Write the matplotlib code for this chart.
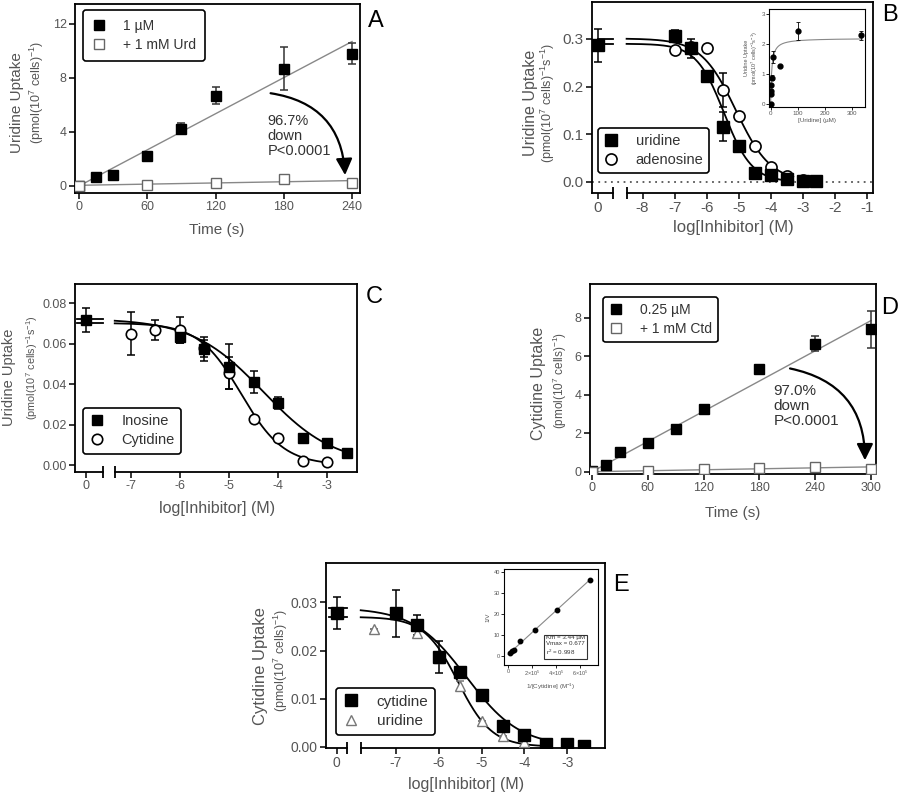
import numpy as np
import matplotlib
matplotlib.use('Agg')
import matplotlib.pyplot as plt
from matplotlib.patches import FancyArrowPatch

plt.rcParams['font.family'] = ['Liberation Sans', 'DejaVu Sans']
plt.rcParams['mathtext.fontset'] = 'custom'
plt.rcParams['mathtext.rm'] = 'Liberation Sans'
plt.rcParams['mathtext.it'] = 'Liberation Sans:italic'
plt.rcParams['mathtext.bf'] = 'Liberation Sans:bold'

W, H = 900, 793
GREY = '#555555'
LGREY = '#888888'

# ---------------- data ----------------
# A: uridine uptake time course
time_a = [0, 15, 30, 60, 90, 120, 180, 240]
urd_a = [0.0, 0.65, 0.8, 2.2, 4.25, 6.7, 8.7, 9.8]
urd_a_err = [0.1, 0.1, 0.1, 0.3, 0.4, 0.6, 1.6, 0.8]
time_a_inh = [0, 60, 120, 180, 240]
urd_a_inh = [0.0, 0.1, 0.2, 0.5, 0.25]
fit_a_x = [0, 240]
fit_a_y = [0.0, 10.7]
fit_a_inh_y = [0.05, 0.4]

# B: uridine uptake vs inhibitor
ctrl_b, ctrl_b_err = 0.287, 0.035
logc_b = [-7, -6.5, -6, -5.5, -5, -4.5, -4, -3.5, -3, -2.6]
urd_b = [0.306, 0.281, 0.223, 0.116, 0.076, 0.019, 0.015, 0.006, 0.003, 0.002]
urd_b_err = [0.012, 0.02, 0.01, 0.03, 0.005, 0.0, 0.0, 0.0, 0.0, 0.0]
logc_b_ado = [-7, -6.5, -6, -5.5, -5, -4.5, -4, -3.5, -3]
ado_b = [0.276, 0.283, 0.281, 0.193, 0.138, 0.076, 0.031, 0.0126, 0.0035]
ado_b_err = [0.0, 0.0, 0.0, 0.035, 0.0, 0.0, 0.0, 0.0, 0.0]
fit_b_urd = (0.290, -5.46, 1.0)   # top, logIC50, hill
fit_b_ado = (0.301, -5.09, 0.8)
# B inset: uridine concentration dependence
conc_b_in = [0, 1, 2, 3, 5, 10, 33, 100, 333]
v_b_in = [0.0, 0.31, 0.42, 0.64, 0.88, 1.58, 1.25, 2.43, 2.3]
v_b_in_err = [0.0, 0.0, 0.0, 0.0, 0.1, 0.2, 0.0, 0.3, 0.15]
mm_b_in = (2.2, 4.0)  # Vmax, Km

# C
ctrl_c, ctrl_c_err = 0.0718, 0.006
logc_c_ino = [-6, -5.5, -5, -4.5, -4, -3.5, -3, -2.6]
ino_c = [0.0635, 0.0574, 0.0487, 0.041, 0.0305, 0.0135, 0.0107, 0.0058]
ino_c_err = [0.003, 0.006, 0.011, 0.0055, 0.003, 0.0, 0.0, 0.001]
logc_c_cyd = [-7, -6.5, -6, -5.5, -5, -4.5, -4, -3.5, -3]
cyd_c = [0.065, 0.067, 0.0667, 0.0577, 0.0454, 0.0226, 0.0132, 0.0021, 0.0013]
cyd_c_err = [0.0105, 0.005, 0.0065, 0.004, 0.008, 0.001, 0.0, 0.0, 0.0]
fit_c_ino = (0.0725, -4.3, 0.6)
fit_c_cyd = (0.0703, -4.75, 1.0)

# D: cytidine uptake time course
time_d = [0, 15, 30, 60, 90, 120, 180, 240, 300]
cyd_d = [0.05, 0.35, 1.0, 1.5, 2.2, 3.25, 5.35, 6.65, 7.4]
cyd_d_err = [0.05, 0.05, 0.05, 0.1, 0.1, 0.2, 0.15, 0.4, 0.95]
time_d_inh = [0, 60, 120, 180, 240, 300]
cyd_d_inh = [0.0, 0.03, 0.12, 0.19, 0.26, 0.14]
fit_d_x = [0, 300]
fit_d_y = [0.0, 7.85]
fit_d_inh_y = [0.0, 0.25]

# E
ctrl_e, ctrl_e_err = 0.0278, 0.0034
logc_e_cyd = [-7, -6.5, -6, -5.5, -5, -4.5, -4, -3.5, -3, -2.6]
cyd_e = [0.0277, 0.0253, 0.0187, 0.0155, 0.0108, 0.0044, 0.0025, 0.0006, 0.0005, 0.0002]
cyd_e_err = [0.0048, 0.002, 0.0033, 0.001, 0.0005, 0.0, 0.0, 0.0, 0.0, 0.0]
logc_e_urd = [-7.5, -6.5, -6, -5.5, -5, -4.5, -4, -3.5]
urd_e = [0.0244, 0.0236, 0.0184, 0.0126, 0.0054, 0.0022, 0.001, 0.0003]
urd_e_err = [0.0, 0.0008, 0.0, 0.001, 0.0, 0.0, 0.0, 0.0]
fit_e_cyd = (0.0289, -5.35, 0.7)
fit_e_urd = (0.0270, -5.55, 1.1)
# E inset: double reciprocal
inv_s_e = [0.15e5, 0.3e5, 0.45e5, 1.0e5, 2.2e5, 4.1e5, 6.8e5]
inv_v_e = [1.1, 2.0, 2.7, 6.8, 12.3, 21.6, 35.8]
lb_e = (0.6, 5.2e-5)  # intercept, slope


def hill(x, top, c, h):
    return top / (1 + 10 ** ((np.asarray(x) - c) * h))


fig = plt.figure(figsize=(W / 100, H / 100), dpi=100)


def px_axes(x0, y0, x1, y1):
    return fig.add_axes([x0 / W, 1 - y1 / H, (x1 - x0) / W, (y1 - y0) / H])


def style(ax, fs, lw=1.3):
    for s in ax.spines.values():
        s.set_linewidth(lw)
    ax.tick_params(direction='out', length=4, width=1.1, labelsize=fs,
                   labelcolor=GREY, pad=2)


def break_axis(ax, xmin, bl, br, xmax):
    ax.spines['bottom'].set_bounds(br, xmax)
    tr = ax.get_xaxis_transform()
    ax.plot([xmin, bl], [0, 0], transform=tr, color='k', lw=1.3, clip_on=False)
    ax.plot([bl, br], [0, 0], transform=tr, ls='none', marker='|', ms=8,
            mew=1.3, color='k', clip_on=False)


def ylab(x, y, l1, l2, x2, y2, fs1, fs2):
    fig.text(x / W, 1 - y / H, l1, rotation=90, ha='center', va='center',
             fontsize=fs1, color=GREY)
    fig.text(x2 / W, 1 - y2 / H, l2, rotation=90, ha='center', va='center',
             fontsize=fs2, color=GREY)


def panel_letter(x, y, s):
    fig.text(x / W, 1 - y / H, s, ha='center', va='center', fontsize=17)


def legend(ax, loc, anchor, fs, handles=None, labels=None, bpad=0.45):
    if handles is None:
        handles, labels = ax.get_legend_handles_labels()
    leg = ax.legend(handles, labels, loc=loc, bbox_to_anchor=anchor, fontsize=fs,
                    frameon=True, fancybox=True, edgecolor='k', framealpha=1,
                    handlelength=1.0, handletextpad=1.2, borderpad=bpad,
                    labelspacing=0.35, borderaxespad=0)
    leg.get_frame().set_linewidth(1.2)
    for t in leg.get_texts():
        t.set_color('#333333')
    return leg


ebkw = dict(fmt='none', ecolor='k', elinewidth=1.1, capsize=3, capthick=1.1)

# ---------------- Panel A ----------------
ax = px_axes(75, 4, 360, 193)
style(ax, 9)
ax.plot(fit_a_x, fit_a_y, color=LGREY, lw=1.0)
ax.plot(fit_a_x, fit_a_inh_y, color=LGREY, lw=1.0)
ax.errorbar(time_a, urd_a, yerr=urd_a_err, **dict(ebkw, ecolor='#333333'))
ax.plot(time_a, urd_a, 's', color='k', ms=7.5, label='1 µM', zorder=5)
ax.plot(time_a_inh, urd_a_inh, 's', mfc='white', mec='#666666', mew=1.0,
        ms=7.5, label='+ 1 mM Urd', zorder=5)
ax.set_xlim(-3.5, 247)
ax.set_ylim(-0.52, 13.48)
ax.set_xticks([0, 60, 120, 180, 240])
ax.set_yticks([0, 4, 8, 12])
ax.add_patch(FancyArrowPatch((166, 6.9), (234, 0.6), connectionstyle='arc3,rad=-0.42',
                             arrowstyle='-|>,head_length=0.9,head_width=0.45',
                             mutation_scale=11, lw=1.6, color='k'))
ax.text(166, 5.3, '96.7%\ndown\nP<0.0001', fontsize=10.5, color='#333333',
        va='top', ha='left', linespacing=1.05)
legend(ax, 'upper left', (0.028, 0.968), 10, bpad=0.65)
ylab(17, 103, 'Uridine Uptake', r'(pmol(10$^7$ cells)$^{-1}$)', 37, 92, 11, 9)
fig.text(217 / W, 1 - 230 / H, 'Time (s)', ha='center', va='center', fontsize=11, color=GREY)
panel_letter(376, 21, 'A')

# ---------------- Panel B ----------------
ax = px_axes(592, 2, 873, 193)
style(ax, 11)
xmin, xmax, bl, br, ctrl = -9.58, -0.81, -8.92, -8.5, -9.39
ax.axhline(0, color=GREY, lw=1.3, ls=(0, (1, 2.5)))
for top, c, h in (fit_b_urd, fit_b_ado):
    ax.plot([xmin + 0.2, bl], [top, top], color='k', lw=1.3)
    xs = np.linspace(br, -3.3, 200)
    ax.plot(xs, hill(xs, top, c, h), color='k', lw=1.3)
ax.errorbar([ctrl], [ctrl_b], yerr=[ctrl_b_err], **ebkw)
ax.errorbar(logc_b, urd_b, yerr=urd_b_err, **ebkw)
ax.errorbar(logc_b_ado, ado_b, yerr=ado_b_err, **ebkw)
ax.plot(logc_b_ado, ado_b, 'o', mfc='white', mec='k', mew=1.2, ms=8, label='adenosine', zorder=4)
ax.plot([ctrl] + logc_b, [ctrl_b] + urd_b, 's', color='k', ms=8.5, label='uridine', zorder=5)
ax.set_xlim(xmin, xmax)
ax.set_ylim(-0.0231, 0.3776)
ax.set_xticks([ctrl] + list(range(-8, 0)))
ax.set_xticklabels(['0'] + [str(v) for v in range(-8, 0)])
ax.set_yticks([0, 0.1, 0.2, 0.3])
ax.set_yticklabels(['0.0', '0.1', '0.2', '0.3'])
break_axis(ax, xmin, bl, br, xmax)
h_, l_ = ax.get_legend_handles_labels()
legend(ax, 'lower left', (0.021, 0.105), 10.5, h_[::-1], l_[::-1], bpad=0.4)
ylab(530, 103, 'Uridine Uptake', r'(pmol(10$^7$ cells)$^{-1}$s$^{-1}$)', 548, 103, 11.5, 9)
fig.text(733 / W, 1 - 227 / H, 'log[Inhibitor] (M)', ha='center', va='center', fontsize=12, color=GREY)
panel_letter(890, 15, 'B')

# B inset
axi = px_axes(769, 9, 865, 107)
style(axi, 4.5, lw=0.8)
axi.tick_params(length=2, width=0.6, pad=1)
xs = np.linspace(0, 340, 300)
vmax, km = mm_b_in
axi.plot(xs, vmax * xs / (km + xs), color=LGREY, lw=0.8)
axi.errorbar(conc_b_in, v_b_in, yerr=v_b_in_err, fmt='none', ecolor='k',
             elinewidth=0.6, capsize=1.5, capthick=0.6)
axi.plot(conc_b_in, v_b_in, 'o', color='k', ms=3.5)
axi.set_xlim(-6, 349)
axi.set_ylim(-0.11, 3.18)
axi.set_xticks([0, 100, 200, 300])
axi.set_yticks([0, 1, 2, 3])
axi.set_xlabel('[Uridine] (µM)', fontsize=4.5, color=GREY, labelpad=1)
axi.set_ylabel('Uridine Uptake\n' + r'(pmol(10$^7$ cells)$^{-1}$s$^{-1}$)', fontsize=4,
               color=GREY, labelpad=1, linespacing=1.1)

# ---------------- Panel C ----------------
ax = px_axes(75, 284, 357, 472)
style(ax, 9)
xmin, xmax, bl, br, ctrl = -8.14, -2.39, -7.57, -7.33, -7.92
for (top, c, h), end in ((fit_c_ino, -2.6), (fit_c_cyd, -3.0)):
    ax.plot([xmin + 0.04, bl], [top, top], color='k', lw=1.3)
    xs = np.linspace(br, end, 200)
    ax.plot(xs, hill(xs, top, c, h), color='k', lw=1.3)
ax.errorbar([ctrl], [ctrl_c], yerr=[ctrl_c_err], **ebkw)
ax.errorbar(logc_c_ino, ino_c, yerr=ino_c_err, **ebkw)
ax.errorbar(logc_c_cyd, cyd_c, yerr=cyd_c_err, **ebkw)
ax.plot([ctrl] + logc_c_ino, [ctrl_c] + ino_c, 's', color='k', ms=7.5, label='Inosine', zorder=5)
ax.plot(logc_c_cyd, cyd_c, 'o', mfc='white', mec='k', mew=1.2, ms=7.5, label='Cytidine', zorder=4)
ax.set_xlim(xmin, xmax)
ax.set_ylim(-0.00346, 0.0896)
ax.set_xticks([ctrl] + list(range(-7, -2)))
ax.set_xticklabels(['0'] + [str(v) for v in range(-7, -2)])
ax.set_yticks([0, 0.02, 0.04, 0.06, 0.08])
ax.set_yticklabels(['0.00', '0.02', '0.04', '0.06', '0.08'])
break_axis(ax, xmin, bl, br, xmax)
legend(ax, 'lower left', (0.028, 0.096), 10.5)
ylab(9, 377, 'Uridine Uptake', r'(pmol(10$^7$ cells)$^{-1}$s$^{-1}$)', 32, 368, 10.5, 7.8)
fig.text(217 / W, 1 - 508 / H, 'log[Inhibitor] (M)', ha='center', va='center', fontsize=11.5, color=GREY)
panel_letter(374, 297, 'C')

# ---------------- Panel D ----------------
ax = px_axes(590, 284, 876, 474)
style(ax, 9)
ax.plot(fit_d_x, fit_d_y, color=LGREY, lw=1.0)
ax.plot(fit_d_x, fit_d_inh_y, color=LGREY, lw=1.0)
ax.errorbar(time_d, cyd_d, yerr=cyd_d_err, **dict(ebkw, ecolor='#333333'))
ax.plot(time_d, cyd_d, 's', color='k', ms=7, label='0.25 µM', zorder=5)
ax.plot(time_d_inh, cyd_d_inh, 's', mfc='white', mec='#666666', mew=1.0, ms=7,
        label='+ 1 mM Ctd', zorder=5)
ax.set_xlim(-2.2, 305.4)
ax.set_ylim(-0.12, 9.75)
ax.set_xticks([0, 60, 120, 180, 240, 300])
ax.set_yticks([0, 2, 4, 6, 8])
ax.add_patch(FancyArrowPatch((210, 5.39), (293.5, 0.45), connectionstyle='arc3,rad=-0.42',
                             arrowstyle='-|>,head_length=0.9,head_width=0.45',
                             mutation_scale=11, lw=1.6, color='k'))
ax.text(195, 4.55, '97.0%\ndown\nP<0.0001', fontsize=11, color='#333333',
        va='top', ha='left', linespacing=1.1)
legend(ax, 'upper left', (0.045, 0.932), 10)
ylab(538, 383, 'Cytidine Uptake', r'(pmol(10$^7$ cells)$^{-1}$)', 560, 380, 11.5, 8.5)
fig.text(733 / W, 1 - 513 / H, 'Time (s)', ha='center', va='center', fontsize=11, color=GREY)
panel_letter(890, 308, 'D')

# ---------------- Panel E ----------------
ax = px_axes(326, 563, 605, 748)
style(ax, 10)
xmin, xmax, bl, br, ctrl = -8.63, -2.12, -8.15, -7.82, -8.38
for top, c, h in (fit_e_cyd, fit_e_urd):
    ax.plot([xmin + 0.08, bl], [top, top], color='k', lw=1.3)
    xs = np.linspace(br, -3.55, 200)
    ax.plot(xs, hill(xs, top, c, h), color='k', lw=1.3)
ax.errorbar([ctrl], [ctrl_e], yerr=[ctrl_e_err], **ebkw)
ax.errorbar(logc_e_cyd, cyd_e, yerr=cyd_e_err, **ebkw)
ax.errorbar(logc_e_urd, urd_e, yerr=urd_e_err, **dict(ebkw, ecolor='#777777'))
ax.plot([ctrl] + logc_e_cyd, [ctrl_e] + cyd_e, 's', color='k', ms=8.5, label='cytidine', zorder=5)
ax.plot(logc_e_urd, urd_e, '^', mfc='white', mec='#777777', mew=1.0, ms=6.5, label='uridine', zorder=4)
ax.set_xlim(xmin, xmax)
ax.set_ylim(-0.00027, 0.0382)
ax.set_xticks([ctrl] + list(range(-7, -2)))
ax.set_xticklabels(['0'] + [str(v) for v in range(-7, -2)])
ax.set_yticks([0, 0.01, 0.02, 0.03])
ax.set_yticklabels(['0.00', '0.01', '0.02', '0.03'])
break_axis(ax, xmin, bl, br, xmax)
legend(ax, 'lower left', (0.036, 0.07), 11)
ylab(260, 666, 'Cytidine Uptake', r'(pmol(10$^7$ cells)$^{-1}$)', 281, 660, 12, 9)
fig.text(466 / W, 1 - 784 / H, 'log[Inhibitor] (M)', ha='center', va='center', fontsize=11.5, color=GREY)
panel_letter(621, 585, 'E')

# E inset
axi = px_axes(504, 569, 598, 665)
style(axi, 4, lw=0.8)
axi.tick_params(length=2, width=0.6, pad=1)
xs = np.array([0, 6.9e5])
axi.plot(xs, lb_e[0] + lb_e[1] * xs, color=LGREY, lw=0.8)
axi.plot(inv_s_e, inv_v_e, 'o', color='k', ms=3.2)
axi.set_xlim(-0.35e5, 7.5e5)
axi.set_ylim(-4.5, 41.2)
axi.set_xticks([0, 2e5, 4e5, 6e5])
axi.set_xticklabels(['0', r'2×10$^5$', r'4×10$^5$', r'6×10$^5$'])
axi.set_yticks([0, 10, 20, 30, 40])
axi.set_xlabel(r'1/[Cytidine] (M$^{-1}$)', fontsize=4.5, color=GREY, labelpad=2)
axi.set_ylabel('1/V', fontsize=4.5, color=GREY, labelpad=2)
axi.text(0.45, 0.085, 'Km = 3.44 µM\nVmax = 0.677\n' + r'r$^2$ = 0.998', transform=axi.transAxes,
         fontsize=4.5, color='#333333', va='bottom', ha='left', linespacing=1.2,
         bbox=dict(boxstyle='square,pad=0.3', fc='white', ec='#333333', lw=0.8))

fig.savefig('out.png', dpi=100)
